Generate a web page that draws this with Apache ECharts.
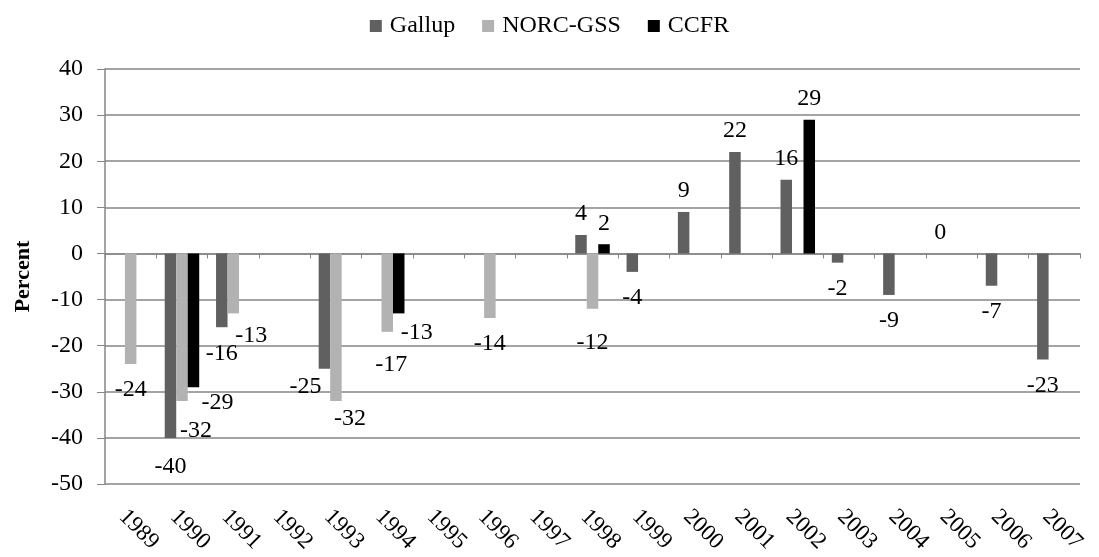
<!DOCTYPE html>
<html>
<head>
<meta charset="utf-8">
<script src="https://cdn.jsdelivr.net/npm/echarts@6/dist/echarts.min.js"></script>
<style>
  html, body { margin: 0; padding: 0; background: #fff; }
  #chart { width: 1099px; height: 557px; }
</style>
</head>
<body>
<div id="chart"></div>
<script>
// years on the x axis
const years = ['1989', '1990', '1991', '1992', '1993', '1994', '1995', '1996', '1997', '1998',
  '1999', '2000', '2001', '2002', '2003', '2004', '2005', '2006', '2007']

// percent values per poll, null where no survey
const gallup = [null, -40, -16, null, -25, null, null, null, null, 4,
  -4, 9, 22, 16, -2, -9, 0, -7, -23]
const norcGss = [-24, -32, -13, null, -32, -17, null, -14, null, -12,
  null, null, null, null, null, null, null, null, null]
const ccfr = [null, -29, null, null, null, -13, null, null, null, 2,
  null, null, null, 29, null, null, null, null, null]

const yTicks = { min: -50, max: 40, step: 10 }

// labels that were dragged by hand in the original, [dx, dy] in px
const labelNudge = {
  'Gallup': { '1990': [0, 3], '1993': [-19, -8] },
  'NORC-GSS': { '1990': [14, 4], '1991': [18, -4], '1993': [14, -8], '1994': [4, 7], '1998': [0, 8] },
  'CCFR': { '1990': [24, -10], '1994': [18, -7] }
}

const FONT = 'Liberation Serif'

function toBars(name, values) {
  const nudge = labelNudge[name] || {}
  return values.map((v, i) => {
    if (v === null) return null
    const neg = v < 0
    return {
      value: v,
      label: {
        position: neg ? 'bottom' : 'top',
        distance: neg ? 14 : 9,
        offset: nudge[years[i]] || [0, 0]
      }
    }
  })
}

function barSeries(name, values, color) {
  return {
    name: name,
    type: 'bar',
    xAxisIndex: 0,
    data: toBars(name, values),
    barWidth: 11.5,
    barGap: '0%',
    itemStyle: { color: color },
    label: {
      show: true,
      color: '#000',
      fontFamily: FONT,
      fontSize: 24
    },
    animation: false
  }
}

const chart = echarts.init(document.getElementById('chart'))

chart.setOption({
  backgroundColor: '#fff',
  textStyle: { fontFamily: FONT },
  legend: {
    top: 9,
    left: 'center',
    itemWidth: 12,
    itemHeight: 12,
    itemGap: 27,
    icon: 'rect',
    textStyle: { fontFamily: FONT, fontSize: 24, color: '#000', padding: [0, 0, 0, 3] },
    data: ['Gallup', 'NORC-GSS', 'CCFR']
  },
  grid: {
    left: 105,
    right: 19,
    top: 69,
    bottom: 73,
    containLabel: false,
    outerBoundsMode: 'none'
  },
  xAxis: [
    {
      type: 'category',
      data: years,
      position: 'bottom',
      axisLine: { show: false, onZero: false },
      axisTick: { show: false },
      axisLabel: {
        rotate: -45,
        margin: 21,
        verticalAlign: 'top',
        fontFamily: FONT,
        fontSize: 23,
        color: '#000'
      }
    },
    {
      type: 'category',
      data: years,
      position: 'top',
      axisLine: { show: true, onZero: true, lineStyle: { color: '#868686', width: 1.5 } },
      axisTick: { show: true, inside: true, length: 5, lineStyle: { color: '#868686' } },
      axisLabel: { show: false }
    }
  ],
  yAxis: {
    type: 'value',
    min: yTicks.min,
    max: yTicks.max,
    interval: yTicks.step,
    name: 'Percent',
    nameLocation: 'middle',
    nameGap: 71,
    nameTextStyle: { fontFamily: FONT, fontSize: 22, fontWeight: 'bold', color: '#000' },
    axisLine: { show: true, lineStyle: { color: '#868686', width: 1.5 } },
    axisTick: { show: true, length: 8, lineStyle: { color: '#868686' } },
    axisLabel: { margin: 22, fontFamily: FONT, fontSize: 24, color: '#000' },
    splitLine: { lineStyle: { color: '#868686', width: 1.5 } }
  },
  series: [
    barSeries('Gallup', gallup, '#606060'),
    barSeries('NORC-GSS', norcGss, '#b2b2b2'),
    barSeries('CCFR', ccfr, '#000000')
  ]
})
</script>
</body>
</html>
